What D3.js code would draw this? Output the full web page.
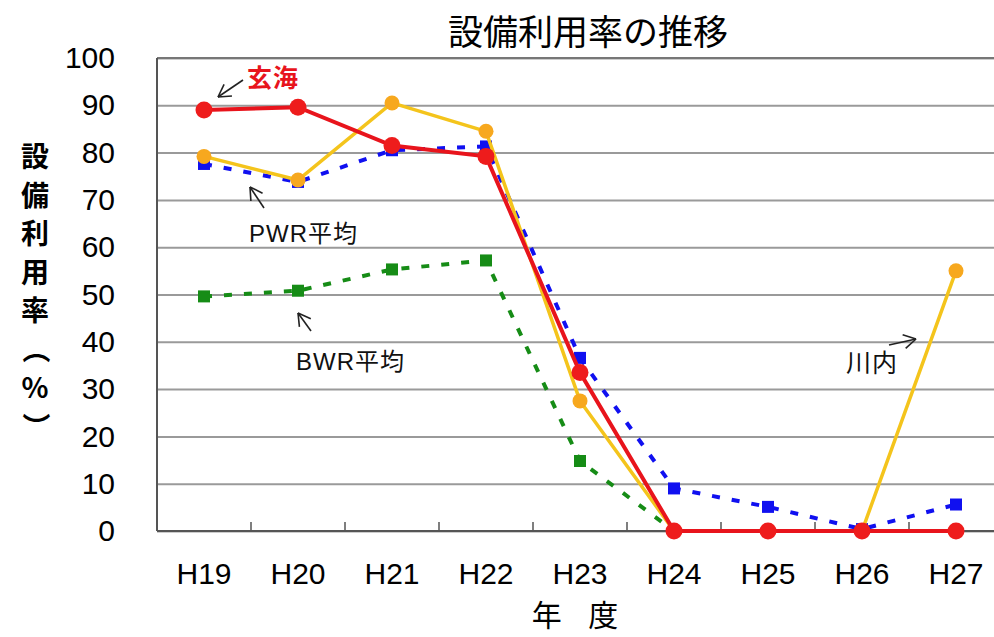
<!DOCTYPE html>
<html>
<head>
<meta charset="utf-8">
<script src="https://cdn.jsdelivr.net/npm/d3@7"></script>
<style>
  body { margin: 0; background: #fff; }
  svg { display: block; }
</style>
</head>
<body>
<div id="chart"></div>
<script>
const years = ["H19", "H20", "H21", "H22", "H23", "H24", "H25", "H26", "H27"];
const genkai = [89, 89.6, 81.5, 79.2, 33.5, 0, 0, 0, 0];
const sendai = [79.2, 74.2, 90.5, 84.5, 27.5, 0, 0, 0, 55];
const pwrAvg = [77.6, 73.8, 80.5, 81.3, 36.6, 9.0, 5.1, 0.4, 5.6];
const bwrAvg = [49.6, 50.8, 55.3, 57.2, 14.8, 0, null, null, null];
const yTicks = [0, 10, 20, 30, 40, 50, 60, 70, 80, 90, 100];
const yLabelChars = ["設", "備", "利", "用", "率", "（", "%", "）"];

const svgWidth = 994;
const svgHeight = 637;
const plot = { left: 157, right: 1003, top: 58, bottom: 531 };

const jpFont = "'Noto Sans CJK JP', sans-serif";
const numFont = "'Liberation Sans', Arial, sans-serif";

const svg = d3.select("#chart")
    .append("svg")
    .attr("width", svgWidth)
    .attr("height", svgHeight);

const x = d3.scaleBand()
    .domain(years)
    .range([plot.left, plot.right]);

const y = d3.scaleLinear()
    .domain([0, 100])
    .range([plot.bottom, plot.top]);

const cx = d => x(d) + x.bandwidth() / 2;

// gridlines
svg.append("g")
    .attr("transform", `translate(${plot.left},0)`)
    .call(d3.axisLeft(y).tickValues(yTicks).tickSize(-(plot.right - plot.left)).tickFormat(""))
    .call(g => g.select(".domain").remove())
    .call(g => g.selectAll("line").attr("stroke", "#9a9a9a").attr("stroke-width", 2));

// frame
svg.append("line")
    .attr("x1", plot.left).attr("x2", plot.right)
    .attr("y1", plot.top).attr("y2", plot.top)
    .attr("stroke", "#777").attr("stroke-width", 2);
svg.append("line")
    .attr("x1", plot.left).attr("x2", plot.left)
    .attr("y1", plot.top).attr("y2", plot.bottom)
    .attr("stroke", "#555").attr("stroke-width", 2);
svg.append("line")
    .attr("x1", plot.left).attr("x2", plot.right)
    .attr("y1", plot.bottom).attr("y2", plot.bottom)
    .attr("stroke", "#555").attr("stroke-width", 2);

// x boundary ticks
svg.append("g")
    .selectAll("line")
    .data(years.slice(1))
    .enter()
    .append("line")
    .attr("x1", d => x(d)).attr("x2", d => x(d))
    .attr("y1", plot.bottom).attr("y2", plot.bottom - 9)
    .attr("stroke", "#555").attr("stroke-width", 1.5);

// y tick labels
svg.append("g")
    .attr("transform", `translate(${plot.left},0)`)
    .call(d3.axisLeft(y).tickValues(yTicks).tickSize(0).tickPadding(42))
    .call(g => g.select(".domain").remove())
    .call(g => g.selectAll("text")
        .style("font-family", numFont)
        .style("font-size", "30px")
        .attr("fill", "#000"));

// x tick labels
svg.append("g")
    .attr("transform", `translate(0,${plot.bottom})`)
    .call(d3.axisBottom(x).tickSize(0).tickPadding(32))
    .call(g => g.select(".domain").remove())
    .call(g => g.selectAll("text")
        .style("font-family", numFont)
        .style("font-size", "30px")
        .attr("fill", "#000"));

function drawLine(values, color, width, dash) {
    const line = d3.line()
        .defined(v => v !== null)
        .x((v, i) => cx(years[i]))
        .y(v => y(v));
    svg.append("path")
        .datum(values)
        .attr("fill", "none")
        .attr("stroke", color)
        .attr("stroke-width", width)
        .attr("stroke-dasharray", dash)
        .attr("d", line);
}

function drawSquares(values, color, size) {
    svg.append("g")
        .selectAll("rect")
        .data(values.map((v, i) => ({ v, year: years[i] })).filter(d => d.v !== null))
        .enter()
        .append("rect")
        .attr("x", d => cx(d.year) - size / 2)
        .attr("y", d => y(d.v) - size / 2)
        .attr("width", size)
        .attr("height", size)
        .attr("fill", color);
}

function drawCircles(values, color, r) {
    svg.append("g")
        .selectAll("circle")
        .data(values.map((v, i) => ({ v, year: years[i] })))
        .enter()
        .append("circle")
        .attr("cx", d => cx(d.year))
        .attr("cy", d => y(d.v))
        .attr("r", r)
        .attr("fill", color);
}

// BWR average
drawLine(bwrAvg, "#168c16", 4, "8,12");
drawSquares(bwrAvg, "#168c16", 12);

// PWR average
drawLine(pwrAvg, "#1010f0", 4, "8,12");
drawSquares(pwrAvg, "#1010f0", 12);

// Sendai
drawLine(sendai, "#f4c41c", 3.5, null);
drawCircles(sendai, "#f7a81e", 7.5);

// Genkai
drawLine(genkai, "#e8141c", 4, null);
drawCircles(genkai, "#ee1c1c", 8.5);

// annotation arrows
function arrow(x1, y1, x2, y2, color) {
    const a = Math.atan2(y2 - y1, x2 - x1);
    const len = 14;
    const g = svg.append("g").attr("stroke", color).attr("stroke-width", 1.6).attr("fill", "none");
    g.append("line").attr("x1", x1).attr("y1", y1).attr("x2", x2).attr("y2", y2);
    [Math.PI * 5 / 6, -Math.PI * 5 / 6].forEach(da => {
        g.append("line")
            .attr("x1", x2).attr("y1", y2)
            .attr("x2", x2 + len * Math.cos(a + da))
            .attr("y2", y2 + len * Math.sin(a + da));
    });
}

arrow(243, 80, 218, 97, "#222");
arrow(264, 208, 250, 187, "#222");
arrow(311, 331, 298, 313, "#222");
arrow(889, 345, 916, 339, "#222");

const notes = [
    { text: "玄海", x: 247, y: 87, color: "#e8141c", weight: "bold", size: 25 },
    { text: "PWR平均", x: 249, y: 242, color: "#111", weight: "normal", size: 24 },
    { text: "BWR平均", x: 296, y: 370, color: "#111", weight: "normal", size: 24 },
    { text: "川内", x: 846, y: 372, color: "#111", weight: "normal", size: 25 }
];

svg.append("g")
    .selectAll("text")
    .data(notes)
    .enter()
    .append("text")
    .attr("x", d => d.x)
    .attr("y", d => d.y)
    .attr("fill", d => d.color)
    .style("font-family", "'Liberation Sans', 'Noto Sans CJK JP', sans-serif")
    .style("font-size", d => d.size + "px")
    .style("font-weight", d => d.weight)
    .style("letter-spacing", "1px")
    .text(d => d.text);

// y axis title, stacked vertically (brackets turned for vertical writing)
svg.append("g")
    .selectAll("text")
    .data(yLabelChars)
    .enter()
    .append("text")
    .attr("transform", (d, i) => {
        const ty = 157 + i * 38.5;
        return (d === "（" || d === "）")
            ? `translate(35,${ty}) rotate(90)`
            : `translate(35,${ty})`;
    })
    .attr("text-anchor", "middle")
    .attr("dy", "0.36em")
    .style("font-family", jpFont)
    .style("font-size", "28px")
    .style("font-weight", "bold")
    .text(d => d);

// x axis title
svg.append("text")
    .attr("x", 580)
    .attr("y", 626)
    .attr("text-anchor", "middle")
    .style("font-family", jpFont)
    .style("font-size", "30px")
    .style("letter-spacing", "10px")
    .text("年 度");

// chart title
svg.append("text")
    .attr("x", 588)
    .attr("y", 45)
    .attr("text-anchor", "middle")
    .style("font-family", jpFont)
    .style("font-size", "35px")
    .text("設備利用率の推移");
</script>
</body>
</html>
